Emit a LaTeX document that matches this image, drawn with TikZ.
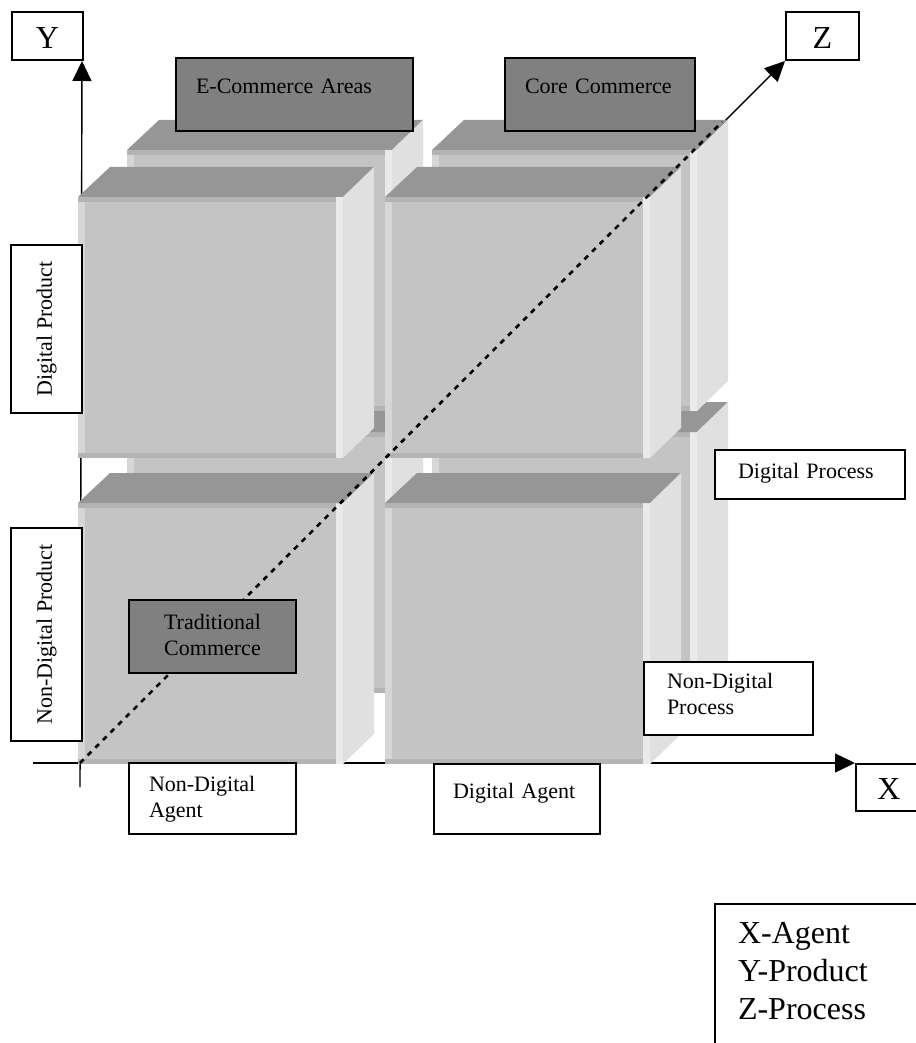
\documentclass[tikz,border=0pt]{standalone}
\usepackage{fontspec}
\setmainfont{Liberation Serif}
\usetikzlibrary{arrows.meta}

\definecolor{frontgray}{HTML}{C4C4C4}
\definecolor{topgray}{HTML}{969696}
\definecolor{sidegray}{HTML}{E0E0E0}
\definecolor{leftgray}{HTML}{D6D6D6}
\definecolor{rightgray}{HTML}{EAEAEA}
\definecolor{edgegray}{HTML}{B4B4B4}
\definecolor{boxgray}{HTML}{808080}

\newcommand\boxfont{\fontsize{11pt}{13pt}\selectfont}
\newcommand\axisfont{\fontsize{16pt}{19pt}\selectfont}

\begin{document}
\begin{tikzpicture}[
    x={(0.5pt,0)}, y={(0,-0.5pt)},
    every node/.style={font=\boxfont},
    axis/.style={line width=0.7pt, -{Triangle[length=10pt,width=9.5pt]}},
    zdashed/.style={line width=1.3pt, dash pattern=on 2.6pt off 2.8pt},
    labelbox/.style={anchor=north west, draw, line width=1pt, fill=white, inner ysep=0pt, align=left},
    areabox/.style={labelbox, fill=boxgray},
    axisbox/.style={labelbox, font=\axisfont, inner xsep=2pt, align=center},
    sidebox/.style={draw, line width=1pt, fill=white, rotate=90, minimum height=35.5pt, inner sep=0pt},
    cube/.pic={
        \fill[frontgray] (0,0) rectangle (265,261);
        \fill[leftgray] (0,0) rectangle (7,261);
        \fill[rightgray] (258,0) rectangle (265,261);
        \fill[edgegray] (0,0) rectangle (258,5);
        \fill[edgegray] (0,256) rectangle (258,261);
        \fill[topgray] (0,0) -- (265,0) -- (296,-30) -- (32,-30) -- cycle;
        \fill[sidegray] (265,0) -- (296,-30) -- (296,231) -- (265,261) -- cycle;
    }
]
\useasboundingbox (0,0) rectangle (915,1043);

% Axis labels
\node[axisbox, text width=31.5pt, text height=18.5pt, text depth=5.5pt] (ybox) at (11,11) {Y};
\node[axisbox, text width=32.5pt, text height=18.5pt, text depth=5.5pt] (zbox) at (785,11) {Z};
\node[axisbox, text width=29pt, text height=17.5pt, text depth=6pt] (xbox) at (855,763) {X};

\coordinate (origin) at (80,763);
\coordinate (ybot) at (80,787);
\coordinate (xleft) at (33,763);
\coordinate (zdash) at (722,122);

% Axes (behind the cubes)
\draw[axis] (ybot) -- ([xshift=-1pt]ybox.south east);
\draw[axis] (xleft) -- (xbox.north west);
\draw[axis] (origin) -- (zbox.south west);

% Back layer
\pic (bbl) at (127,432) {cube};
\pic (bbr) at (432,432) {cube};
\pic (btl) at (127,150) {cube};
\pic (btr) at (432,150) {cube};

% Front layer
\pic (fbl) at (78,503) {cube};
\pic (fbr) at (385,503) {cube};
\pic (ftl) at (78,197) {cube};
\pic (ftr) at (385,197) {cube};

\draw[zdashed] (origin) -- (zdash);

% Areas
\node[areabox, inner xsep=10pt, text width=98.5pt, text height=18pt, text depth=18.5pt] (ecom) at (175,57) {E-Commerce Areas};
\node[areabox, inner xsep=10pt, text width=75pt, text height=18pt, text depth=18.5pt] (core) at (504,57) {Core Commerce};
\node[areabox, align=center, inner xsep=4pt, text width=75.5pt, text height=14.5pt, text depth=22pt] (trad) at (128,599) {Traditional\\Commerce};

% Dimension labels
\node[sidebox, minimum width=84pt] (dprod) at (46.5,329) {Digital Product};
\node[sidebox, minimum width=106.5pt] (ndprod) at (46.5,634.5) {Non-Digital Product};
\node[labelbox, inner xsep=11.5pt, text width=72pt, text height=14pt, text depth=10.5pt] (dproc) at (714,449) {Digital Process};
\node[labelbox, inner xsep=11.5pt, text width=61.5pt, text height=13pt, text depth=23.5pt] (ndproc) at (643,661) {Non-Digital\\Process};
\node[labelbox, inner xsep=10pt, text width=63.5pt, text height=14pt, text depth=21.5pt] (ndagent) at (128,762) {Non-Digital\\Agent};
\node[labelbox, inner xsep=9.5pt, text width=64pt, text height=17pt, text depth=18pt] (dagent) at (433,763) {Digital Agent};

% Legend
\node[labelbox, font=\axisfont, inner xsep=11.5pt, text width=87.5pt, text height=19.5pt, text depth=59pt] (legend) at (714,903) {X-Agent\\Y-Product\\Z-Process};

\end{tikzpicture}
\end{document}
